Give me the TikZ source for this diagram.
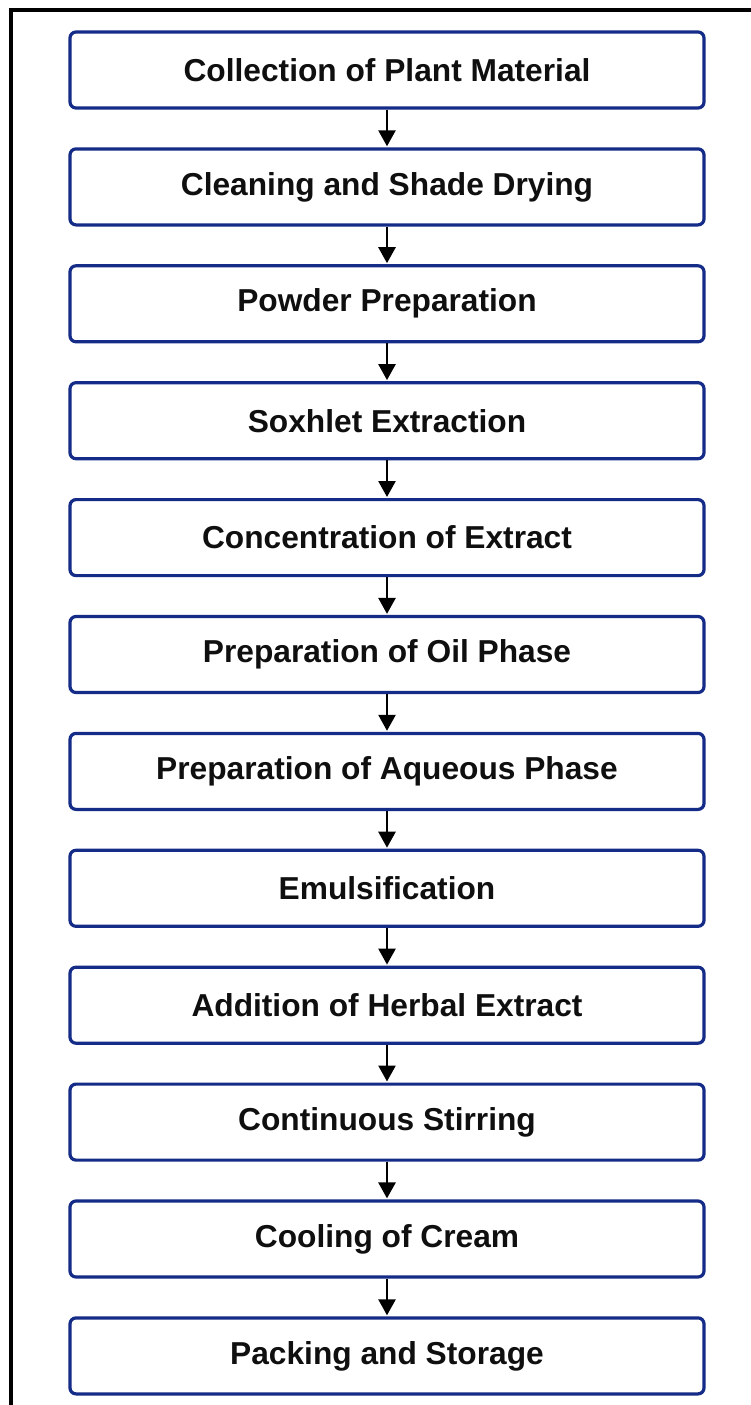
\documentclass[tikz,border=0pt]{standalone}
\usepackage{fontspec}
\setmainfont{Liberation Sans}
\usetikzlibrary{arrows.meta}
\definecolor{boxblue}{RGB}{20,44,135}
\definecolor{txt}{RGB}{15,15,15}
\tikzset{
  stepbox/.style={draw=boxblue, line width=3.2pt, rounded corners=6pt, fill=white,
    minimum width=634pt, minimum height=76pt, inner sep=0pt,
    font=\fontsize{31.7}{37}\selectfont\bfseries, text=txt},
  flowarrow/.style={draw=black, line width=2.6pt, -{Triangle[length=16pt,width=17pt]}, shorten >=1pt}
}
\begin{document}
\begin{tikzpicture}[x=1pt,y=1pt]
\useasboundingbox (0,0) rectangle (751,-1405);
\fill[white] (0,0) rectangle (751,-1405);
\draw[black, line width=4pt] (751,-10.5) -- (11,-10.5) -- (11,-1405);
\foreach \i/\t in {0/Collection of Plant Material,
                   1/Cleaning and Shade Drying,
                   2/Powder Preparation,
                   3/Soxhlet Extraction,
                   4/Concentration of Extract,
                   5/Preparation of Oil Phase,
                   6/Preparation of Aqueous Phase,
                   7/Emulsification,
                   8/Addition of Herbal Extract,
                   9/Continuous Stirring,
                   10/Cooling of Cream,
                   11/Packing and Storage}{
  \node[stepbox] (s\i) at (387,{-70-116.9*\i}) {\t};
}
\foreach \i [evaluate=\i as \j using int(\i+1)] in {0,...,10}{
  \draw[flowarrow] (s\i.south) -- (s\j.north);
}
\end{tikzpicture}
\end{document}
